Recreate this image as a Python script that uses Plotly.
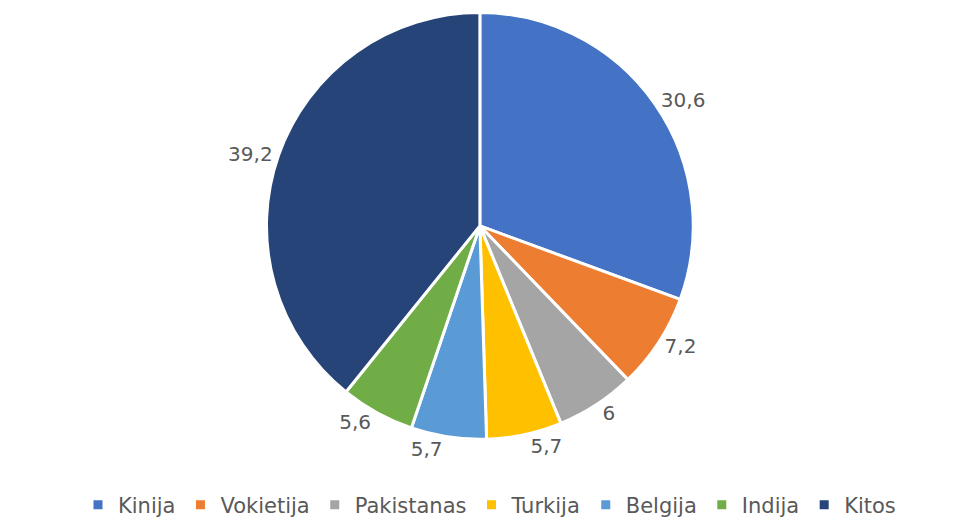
import plotly.graph_objects as go

labels = ["Kinija", "Vokietija", "Pakistanas", "Turkija", "Belgija", "Indija", "Kitos"]
values = [30.6, 7.2, 6, 5.7, 5.7, 5.6, 39.2]
colors = ["#4472C4", "#ED7D31", "#A5A5A5", "#FFC000", "#5B9BD5", "#70AD47", "#264478"]

fig = go.Figure(go.Pie(
    labels=labels,
    values=values,
    sort=False,
    direction="clockwise",
    rotation=0,
    domain=dict(x=[0, 0.98], y=[0.05, 0.99]),
    marker=dict(colors=colors, line=dict(color="white", width=3)),
    textposition="outside",
    texttemplate="%{value}",
    textfont=dict(family="DejaVu Sans", size=20, color="#595959"),
    hoverinfo="label+value",
))

fig.update_layout(
    width=963, height=522,
    separators=",.",
    paper_bgcolor="white",
    plot_bgcolor="white",
    margin=dict(l=0, r=0, t=0, b=68, autoexpand=False),
    showlegend=True,
    legend=dict(
        orientation="h",
        x=0.5, xanchor="center",
        y=-0.095, yanchor="middle",
        font=dict(family="DejaVu Sans", size=21, color="#595959"),
        itemwidth=30,
        traceorder="normal",
    ),
)

fig.write_html("out.html")
